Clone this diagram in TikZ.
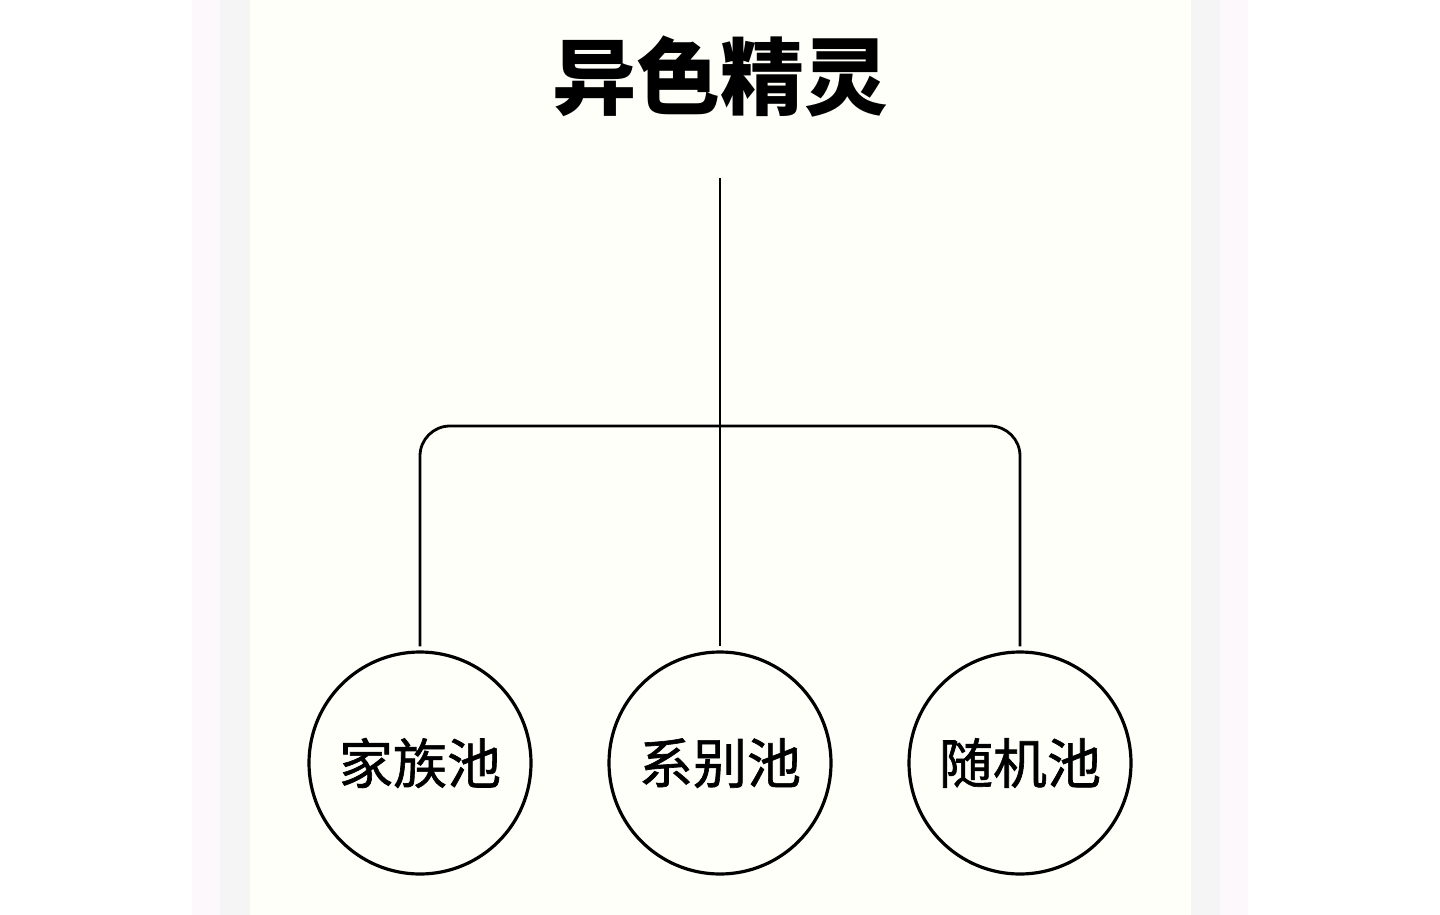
\documentclass[tikz,border=0pt]{standalone}
\usepackage{fontspec}
\newfontfamily\cjk{Noto Sans CJK SC}
\newfontfamily\cjkmid[FakeBold=1.2]{Noto Sans CJK SC}
\usetikzlibrary{positioning}

\definecolor{stripPink}{HTML}{FDF8FC}
\definecolor{stripGrey}{HTML}{F5F5F5}
\definecolor{paper}{HTML}{FFFFFA}

\tikzset{
    pool/.style={circle, draw, line width=1.6pt, minimum size=111pt, inner sep=0pt,
        font=\cjkmid\fontsize{27}{27}\selectfont},
    link/.style={line width=1.4pt, rounded corners=15pt}
}

\begin{document}
\begin{tikzpicture}[x=0.5pt, y=-0.5pt]
        \useasboundingbox (0, 0) rectangle (1440, 915);
        % background strips
        \fill [white] (0, 0) rectangle (1440, 915);
        \fill [stripPink] (192, 0) rectangle (220, 915);
        \fill [stripGrey] (220, 0) rectangle (250, 915);
        \fill [stripGrey] (1191, 0) rectangle (1220, 915);
        \fill [stripPink] (1220, 0) rectangle (1248, 915);
        \fill [paper] (250, 0) rectangle (1191, 915);

        \node (title) at (720, 77) {\cjk\bfseries\fontsize{42}{42}\selectfont 异色精灵};
        \coordinate (top) at (720, 178);
        \coordinate (bar) at (720, 426);

        \node [pool] (fam) at (420, 763) {家族池};
        \node [pool] (ser) at (720, 763) {系别池};
        \node [pool] (rnd) at (1020, 763) {随机池};

        \draw [link, shorten >=2pt] (top) -- (ser);
        \draw [link, shorten <=2pt, shorten >=2pt] (fam) |- (bar) -| (rnd); % bracket
    \end{tikzpicture}
\end{document}
